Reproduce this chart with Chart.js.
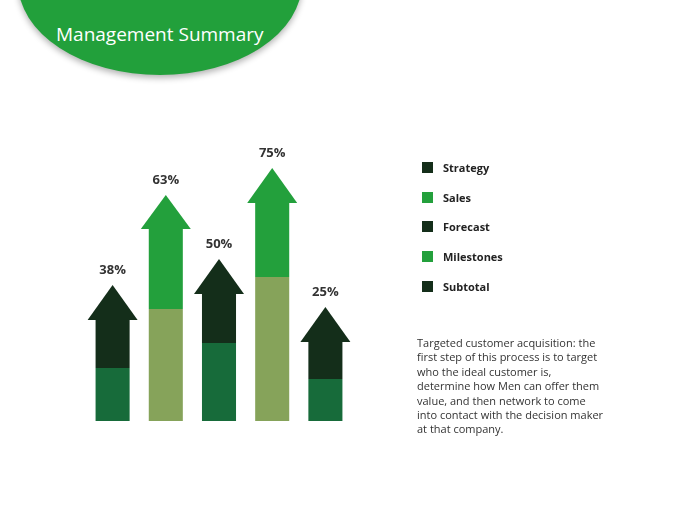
<!DOCTYPE html>
<html>
<head>
<meta charset="utf-8">
<script src="https://cdn.jsdelivr.net/npm/chart.js@4"></script>
<style>
  body { margin: 0; width: 680px; height: 510px; position: relative; overflow: hidden; background: #fff; font-family: "Open Sans", "Noto Sans", sans-serif; }
  #head { position: absolute; left: 18px; top: -110px; width: 284px; height: 185px; border-radius: 50%; background: #22a03b; box-shadow: 0 3px 6px rgba(0,0,0,0.3); }
  #title { position: absolute; left: 56px; top: 21px; color: #fff; font-size: 19px; }
  #chart { position: absolute; left: 0; top: 0; }
  .leg { position: absolute; left: 422px; font-size: 11px; font-weight: bold; color: #222; }
  .leg span { display: inline-block; width: 11px; height: 11px; vertical-align: -1px; margin-right: 10px; }
  #note { position: absolute; left: 417px; top: 336px; width: 190px; font-size: 11px; line-height: 14.4px; color: #333; }
</style>
</head>
<body>
<div id="head"></div>
<div id="title">Management Summary</div>
<canvas id="chart" width="680" height="510"></canvas>
<div id="legend"></div>
<div id="note">Targeted customer acquisition: the first step of this process is to target who the ideal customer is, determine how Men can offer them value, and then network to come into contact with the decision maker at that company.</div>
<script>
const categories = ["Strategy", "Sales", "Forecast", "Milestones", "Subtotal"];
const percentLabels = ["38%", "63%", "50%", "75%", "25%"];
const lowerValues = [53, 112, 78, 144, 42];
const shaftTops = [101, 192, 127, 218, 79];
const tipValues = [136, 226, 162, 253, 114];
const lowerColors = ["#176b3a", "#86a35a", "#176b3a", "#86a35a", "#176b3a"];
const upperColors = ["#142e1a", "#23a03c", "#142e1a", "#23a03c", "#142e1a"];
const legendColors = ["#142e1a", "#23a03c", "#142e1a", "#23a03c", "#142e1a"];

const legendEl = document.getElementById('legend');
categories.forEach((c, i) => {
  const d = document.createElement('div');
  d.className = 'leg';
  d.style.top = (160 + i * 29.7) + 'px';
  d.innerHTML = '<span style="background:' + legendColors[i] + '"></span>' + c;
  legendEl.appendChild(d);
});

const arrowHeads = {
  id: 'arrowHeads',
  afterDatasetsDraw(chart) {
    const ctx = chart.ctx;
    const x = chart.scales.x, y = chart.scales.y;
    ctx.save();
    categories.forEach((c, i) => {
      const cx = x.getPixelForValue(i);
      const base = y.getPixelForValue(shaftTops[i]);
      const tip = y.getPixelForValue(tipValues[i]);
      ctx.fillStyle = upperColors[i];
      ctx.beginPath();
      ctx.moveTo(cx - 25, base);
      ctx.lineTo(cx, tip);
      ctx.lineTo(cx + 25, base);
      ctx.closePath();
      ctx.fill();
      ctx.fillStyle = '#333';
      ctx.font = 'bold 13px "Open Sans", sans-serif';
      ctx.textAlign = 'center';
      ctx.textBaseline = 'bottom';
      ctx.fillText(percentLabels[i], cx, tip - 8);
    });
    ctx.restore();
  }
};

new Chart(document.getElementById('chart'), {
  type: 'bar',
  data: {
    labels: categories,
    datasets: [
      { data: lowerValues, backgroundColor: lowerColors },
      { data: shaftTops.map((v, i) => v - lowerValues[i]), backgroundColor: upperColors }
    ]
  },
  options: {
    responsive: false,
    animation: false,
    layout: { padding: { left: 86, right: 328, top: 100, bottom: 89 } },
    datasets: { bar: { categoryPercentage: 1, barPercentage: 0.64 } },
    plugins: { legend: { display: false }, tooltip: { enabled: false } },
    scales: {
      x: { stacked: true, display: false },
      y: { stacked: true, display: false, min: 0, max: 321 }
    }
  },
  plugins: [arrowHeads]
});
</script>
</body>
</html>
